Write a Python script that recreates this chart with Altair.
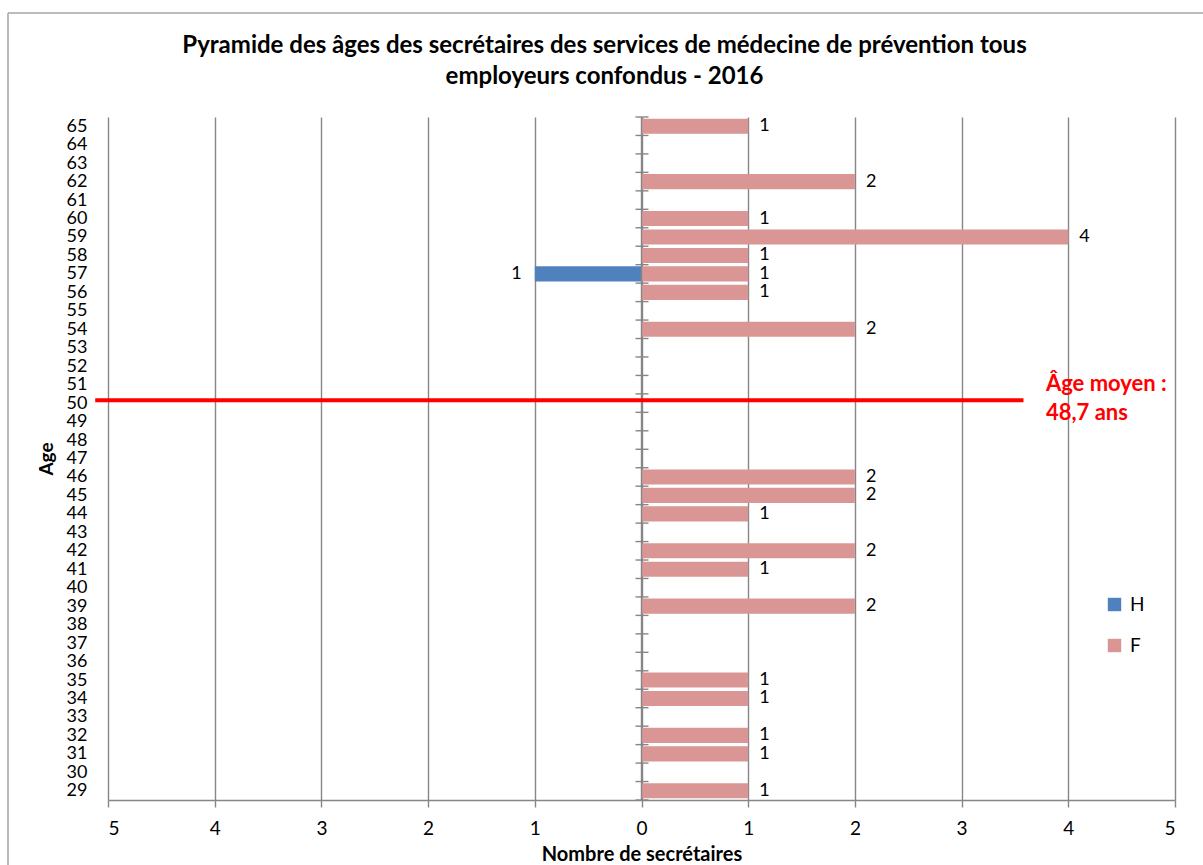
import altair as alt
import pandas as pd

# Data
ages_f = [65, 62, 60, 59, 58, 57, 56, 54, 46, 45, 44, 42, 41, 39, 35, 34, 32, 31, 29]
counts_f = [1, 2, 1, 4, 1, 1, 1, 2, 2, 2, 1, 2, 1, 2, 1, 1, 1, 1, 1]
ages_h = [57]
counts_h = [1]
mean_age_label = "Âge moyen :\n48,7 ans"
mean_line_age = 50.15
age_ticks = list(range(29, 66))
x_ticks = list(range(-5, 6))

rows = []
for a, c in zip(ages_h, counts_h):
    rows.append({"age": a, "sexe": "H", "val": -c, "n": c})
for a, c in zip(ages_f, counts_f):
    rows.append({"age": a, "sexe": "F", "val": c, "n": c})
df = pd.DataFrame(rows)

FONT = "Lato"
GRAY = "#868686"

xscale = alt.Scale(domain=[-5, 5], nice=False, zero=False)
yscale = alt.Scale(domain=[28.5, 65.5], nice=False, zero=False)

xaxis = alt.Axis(values=x_ticks, labelExpr="abs(datum.value)",
                 title="Nombre de secrétaires", grid=True,
                 gridColor=GRAY, gridWidth=1.4, gridOpacity=1,
                 domainColor=GRAY, domainWidth=1.4,
                 tickColor=GRAY, tickWidth=1.4, tickSize=7,
                 labelFontSize=19, labelPadding=12, labelColor="#000",
                 titleFontSize=20, titleFontWeight="bold",
                 titlePadding=6, titleColor="#000", labelFont=FONT,
                 titleFont=FONT)
yaxis = alt.Axis(values=age_ticks, title="Age", grid=False,
                 domain=False, ticks=False, labelOverlap=False,
                 labelFontSize=18, labelPadding=21, labelColor="#000",
                 labelBaseline="middle", labelFont=FONT,
                 titleFont=FONT, titleFontSize=19,
                 titleFontWeight="bold", titlePadding=10,
                 titleColor="#000")


def X(field):
    return alt.X(field, scale=xscale, axis=xaxis)


def Y(field):
    return alt.Y(field, scale=yscale, axis=yaxis)


base = alt.Chart(df)

bars = base.transform_calculate(
    y0="datum.age - 0.41", y1="datum.age + 0.41", x0="0"
).mark_bar().encode(
    x=X("val:Q"),
    x2="x0:Q",
    y=Y("y0:Q"),
    y2="y1:Q",
    color=alt.Color("sexe:N",
                    scale=alt.Scale(domain=["H", "F"],
                                    range=["#4F81BD", "#D99694"]),
                    legend=alt.Legend(orient="none", legendX=997, legendY=478,
                                      title=None, symbolType="square",
                                      symbolSize=180, symbolStrokeWidth=0,
                                      labelFontSize=19, labelFont=FONT,
                                      labelOffset=6, rowPadding=21,
                                      padding=0)),
)

labels_f = base.transform_filter("datum.sexe == 'F'").mark_text(
    align="left", baseline="middle", dx=11, fontSize=18, font=FONT, color="#000"
).encode(x=X("val:Q"), y=Y("age:Q"), text="n:Q")

labels_h = base.transform_filter("datum.sexe == 'H'").mark_text(
    align="right", baseline="middle", dx=-13, fontSize=18, font=FONT, color="#000"
).encode(x=X("val:Q"), y=Y("age:Q"), text="n:Q")

zero_df = pd.DataFrame({"x": [0], "ya": [28.5], "yb": [65.5]})
zero_line = alt.Chart(zero_df).mark_rule(color=GRAY, strokeWidth=1.4).encode(
    x=X("x:Q"), y=Y("ya:Q"), y2="yb:Q")

bounds_df = pd.DataFrame({"b": [a + 0.5 for a in age_ticks] + [28.5], "x": 0})
zero_ticks = alt.Chart(bounds_df).mark_tick(
    orient="horizontal", size=13, thickness=1.4, color=GRAY, xOffset=0.5, opacity=1
).encode(x=X("x:Q"), y=Y("b:Q"))

mean_df = pd.DataFrame({"xa": [-5.12], "xb": [3.58], "y": [mean_line_age]})
mean_line = alt.Chart(mean_df).mark_rule(color="#FF0000", strokeWidth=4, clip=False).encode(
    x=X("xa:Q"), x2="xb:Q", y=Y("y:Q"))

mean_txt_df = pd.DataFrame({"x": [3.79], "y": [51.05], "t": [mean_age_label]})
mean_text = alt.Chart(mean_txt_df).mark_text(
    align="left", baseline="middle", fontSize=22, fontWeight="bold",
    color="#FF0000", font=FONT, lineBreak="\n", lineHeight=29
).encode(x=X("x:Q"), y=Y("y:Q"), text="t:N")

frame_left = alt.Chart(zero_df).mark_rule(color="#A6A6A6", strokeWidth=1.5, clip=False).encode(
    x=alt.value(-100), y=alt.value(-104), y2=alt.value(760))
frame_top = alt.Chart(zero_df).mark_rule(color="#A6A6A6", strokeWidth=1.5, clip=False).encode(
    x=alt.value(-100), x2=alt.value(1100), y=alt.value(-104))

chart = alt.layer(
    frame_left, frame_top, bars, zero_line, zero_ticks, labels_f, labels_h,
    mean_line, mean_text
).properties(
    width=1067, height=683,
    title=alt.TitleParams(
        ["Pyramide des âges des secrétaires des services de médecine de prévention tous",
         "employeurs confondus - 2016"],
        fontSize=24, font=FONT, fontWeight="bold", color="#000",
        anchor="middle", frame="group", dx=-37, lineHeight=31, offset=0, dy=77),
    autosize=alt.AutoSizeParams(type="none"),
    padding={"left": 108, "top": 117, "right": 28, "bottom": 65},
).configure(
    background="white",
    view=alt.ViewConfig(stroke=None),
    axisY=alt.AxisConfig(labelOverlap=False),
)

chart.save("out.html", embed_options={"renderer": "svg", "actions": False})
